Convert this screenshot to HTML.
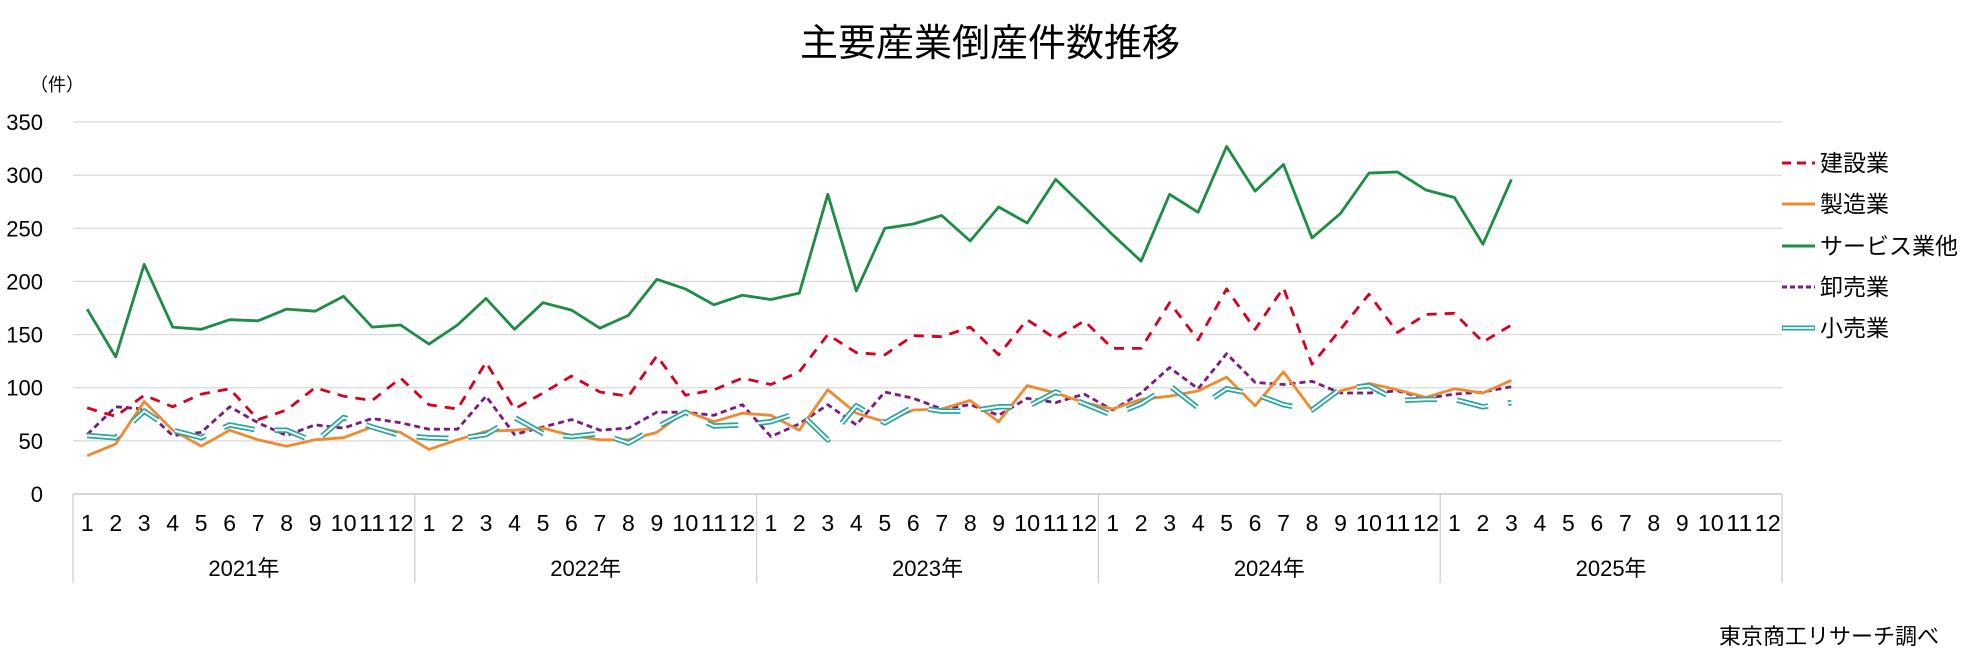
<!DOCTYPE html>
<html><head><meta charset="utf-8"><style>
body{margin:0;background:#fff;}
svg{display:block;font-family:"Liberation Sans","Noto Sans CJK JP",sans-serif;}
</style></head><body>
<svg id="chart" width="1978" height="655" viewBox="0 0 1978 655" xmlns="http://www.w3.org/2000/svg">
<text x="990" y="56" font-size="38" text-anchor="middle" fill="#000">主要産業倒産件数推移</text>
<text x="30" y="91" font-size="18" fill="#000">（件）</text>
<text x="1939" y="644" font-size="22" text-anchor="end" fill="#000">東京商工リサーチ調べ</text>
<g id="grid"></g><g id="axes"></g><g id="series"></g><g id="legend"></g>
</svg>
<script>
const years = ["2021年","2022年","2023年","2024年","2025年"];
const monthLabels = ["1","2","3","4","5","6","7","8","9","10","11","12"];
const yTicks = [0,50,100,150,200,250,300,350];
const construction = [81,73,93,82,94,99,70,79,100,92,88,109, 84,80,124,80,95,111,96,92,130,93,98,109, 103,115,150,133,131,149,148,157,131,164,146,163, 137,137,180,145,193,155,194,122,155,188,152,169, 170,143,159];
const manufacturing = [36,47,87,60,45,60,51,45,51,53,63,58, 42,51,59,60,62,55,51,51,58,78,68,76, 74,60,98,76,68,79,80,88,68,102,95,86, 80,89,92,97,110,83,115,79,97,104,98,91, 99,95,107];
const services = [174,129,216,157,155,164,163,174,172,186,157,159, 141,159,184,155,180,173,156,168,202,193,178,187, 183,189,282,191,250,254,262,238,270,255,296,270, 244,219,282,265,327,285,310,241,264,302,303,286, 279,235,296];
const wholesale = [56,82,80,55,58,82,67,55,65,62,71,67, 61,61,92,56,63,70,60,62,77,77,74,84, 54,66,84,65,96,90,80,84,74,90,86,94, 79,95,119,99,132,105,103,106,95,95,97,90, 94,96,101];
const retail = [55,53,78,60,53,65,60,60,49,72,63,55, 53,52,56,72,57,54,57,48,63,77,64,65, 68,77,51,83,67,82,78,78,82,82,96,85, 74,85,102,81,99,94,84,79,99,102,88,89, 89,82,86];

const NS="http://www.w3.org/2000/svg";
const L=73,R=1782,T=122,B=494,MAX=350;
const nSlots=years.length*12, slot=(R-L)/nSlots;
const xs=i=>L+slot*(i+0.5);
const ys=v=>B-(v/MAX)*(B-T);
function mk(tag,attrs,parent){const e=document.createElementNS(NS,tag);for(const k in attrs)e.setAttribute(k,attrs[k]);parent.appendChild(e);return e;}
const grid=document.getElementById('grid'),axes=document.getElementById('axes'),ser=document.getElementById('series'),leg=document.getElementById('legend');
yTicks.forEach(v=>{
  if(v>0){const g=mk('line',{x1:L,x2:R,y1:ys(v),y2:ys(v),stroke:'#d9d9d9','stroke-width':1.3},grid);
  
  }
  const t=mk('text',{x:43,y:ys(v)+8,'font-size':22,'text-anchor':'end',fill:'#000'},axes);
  t.textContent=v;
  
  
});
const ax=mk('line',{x1:L,x2:R,y1:B,y2:B,stroke:'#bfbfbf','stroke-width':1.3},axes);


for(let y=0;y<=years.length;y++){
  const x=L+y*12*slot;
  const s=mk('line',{x1:x,x2:x,y1:B,y2:583,stroke:'#d0d0d0','stroke-width':1.3},axes);
  
  
}
years.forEach((yr,y)=>{
  monthLabels.forEach((m,i)=>{
    const t=mk('text',{x:xs(y*12+i),y:531,'font-size':23,'text-anchor':'middle',fill:'#000'},axes);
    if(m.length>1){t.setAttribute('textLength',26);t.setAttribute('lengthAdjust','spacingAndGlyphs');}
    t.textContent=m;
    
    
  });
  const t=mk('text',{x:L+(y*12+6)*slot,y:576,'font-size':22,'text-anchor':'middle',fill:'#000'},axes);
  t.textContent=yr;
  
  
});
function pts(arr){return arr.map((v,i)=>xs(i).toFixed(1)+','+ys(v).toFixed(1)).join(' ');}
const defs=[
 {name:'services',label:'サービス業他',data:services,stroke:'#1e8c45',w:2.8,dash:null},
 {name:'construction',label:'建設業',data:construction,stroke:'#d9001b',w:2.8,dash:'10,8'},
 {name:'wholesale',label:'卸売業',data:wholesale,stroke:'#7b1a80',w:2.8,dash:'6,4'},
 {name:'manufacturing',label:'製造業',data:manufacturing,stroke:'#f08a30',w:2.8,dash:null},
 {name:'retail',label:'小売業',data:retail,stroke:'#2aa6a0',w:5.5,dash:'32,20',inner:true}
];
defs.forEach(d=>{
  const a={points:pts(d.data),fill:'none',stroke:d.stroke,'stroke-width':d.w,'stroke-linejoin':'round'};
  if(d.dash)a['stroke-dasharray']=d.dash;
  const p=mk('polyline',a,ser);
  
  
  if(d.inner){
    const q=mk('polyline',{points:pts(d.data),fill:'none',stroke:'#fff','stroke-width':2,'stroke-dasharray':d.dash},ser);
    
    
  }
});
const order=['construction','manufacturing','services','wholesale','retail'];
const ly=[163,204,246,287,328];
order.forEach((n,k)=>{
  const d=defs.find(e=>e.name===n);
  const g=mk('g',{},leg);
  
  
  const a={x1:1782,x2:1815,y1:ly[k],y2:ly[k],stroke:d.stroke,'stroke-width':d.inner?5:3};
  if(n==='construction')a['stroke-dasharray']='9,6';
  if(n==='wholesale')a['stroke-dasharray']='5,3';
  mk('line',a,g);
  if(d.inner)mk('line',{x1:1783,x2:1814,y1:ly[k],y2:ly[k],stroke:'#fff','stroke-width':1.8},g);
  const t=mk('text',{x:1820,y:ly[k]+8,'font-size':23,fill:'#000'},g);
  t.textContent=d.label;
});
</script>
</body></html>
